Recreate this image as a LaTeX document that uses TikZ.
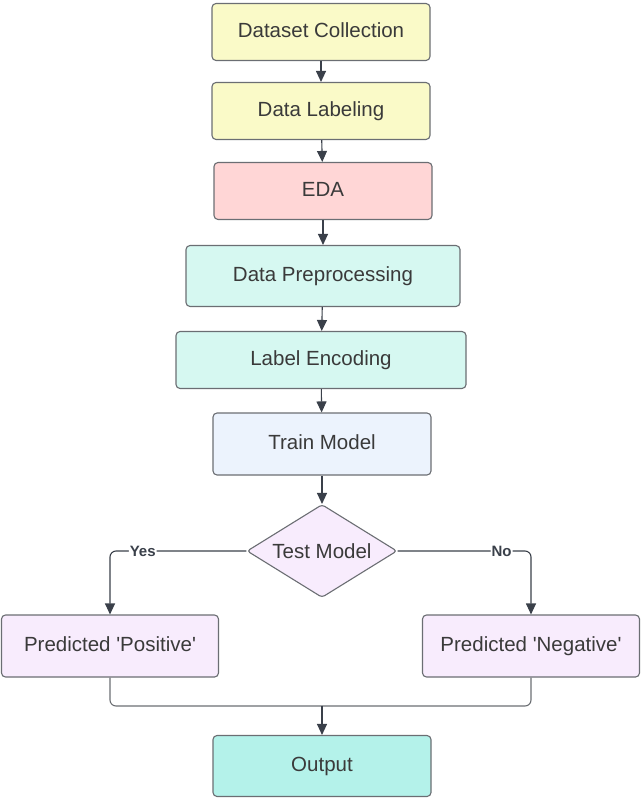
\documentclass[tikz,border=0pt]{standalone}
\usepackage{fontspec}
\setmainfont{Liberation Sans}
\usepackage{xcolor}
\usetikzlibrary{shapes.geometric,arrows.meta}

\definecolor{boxline}{HTML}{6B6E73}
\definecolor{arrowc}{HTML}{3A404A}
\definecolor{txt}{HTML}{3A3A3A}
\definecolor{yellowf}{HTML}{FAFAC8}
\definecolor{pinkf}{HTML}{FFD6D6}
\definecolor{mintf}{HTML}{D6F8F1}
\definecolor{bluef}{HTML}{ECF3FD}
\definecolor{lilacf}{HTML}{F8ECFD}
\definecolor{tealf}{HTML}{B4F2EA}

\begin{document}
\begin{tikzpicture}[x=1pt, y=-1pt,
  box/.style={draw=boxline, line width=1.1pt, rounded corners=4pt, text=txt,
    font=\fontsize{20.5}{24}\selectfont, text height=15pt, text depth=4pt,
    minimum width=218pt, minimum height=57pt, inner sep=0pt},
  decision/.style={diamond, draw=boxline, line width=1.1pt, rounded corners=3pt, fill=lilacf,
    minimum width=150pt, minimum height=93pt, inner sep=0pt,
    label={[text=txt, font=\fontsize{20.5}{24}\selectfont]center:#1}},
  arr/.style={draw=arrowc, line width=1.1pt, -{Triangle[length=11pt,width=10pt]}},
  link/.style={draw=boxline, line width=1.1pt, rounded corners=6pt},
  answer/.style={fill=white, text=arrowc, font=\bfseries\fontsize{15}{18}\selectfont, inner sep=1pt}]
\useasboundingbox (0,0) rectangle (641,799);

% Main column
\node[box, fill=yellowf] (collect) at (321,32) {Dataset Collection};
\node[box, fill=yellowf] (label) at (321,111) {Data Labeling};
\node[box, fill=pinkf] (eda) at (323,191) {EDA};
\node[box, fill=mintf, minimum width=274pt, minimum height=61pt] (prep) at (323,276) {Data Preprocessing};
\node[box, fill=mintf, minimum width=290pt] (encode) at (321,360) {Label Encoding};
\node[box, fill=bluef, minimum height=62pt] (train) at (322,444) {Train Model};
\node[decision={Test Model}] (test) at (322,551) {};

% Outcomes
\node[box, fill=lilacf, minimum width=217pt, minimum height=62pt] (positive) at (110,646) {Predicted \textquotesingle Positive\textquotesingle};
\node[box, fill=lilacf, minimum width=217pt, minimum height=62pt] (negative) at (531,646) {Predicted \textquotesingle Negative\textquotesingle};
\node[box, fill=tealf, minimum height=61pt] (output) at (322,766) {Output};
\coordinate (merge) at (322,706);

% Arrows
\draw[arr] (collect) -- (label);
\draw[arr] (label) -- (eda);
\draw[arr] (eda) -- (prep);
\draw[arr] (prep) -- (encode);
\draw[arr] (encode) -- (train);
\draw[arr] (train) -- (test);
\draw[arr, rounded corners=6pt] (test.west) -| node[answer, pos=0.38] {Yes} (positive.north);
\draw[arr, rounded corners=6pt] (test.east) -| node[answer, pos=0.39] {No} (negative.north);

% Merge into output
\draw[link] (positive.south) |- (merge);
\draw[link] (negative.south) |- (merge);
\draw[arr] (merge) -- (output);

\end{tikzpicture}
\end{document}
